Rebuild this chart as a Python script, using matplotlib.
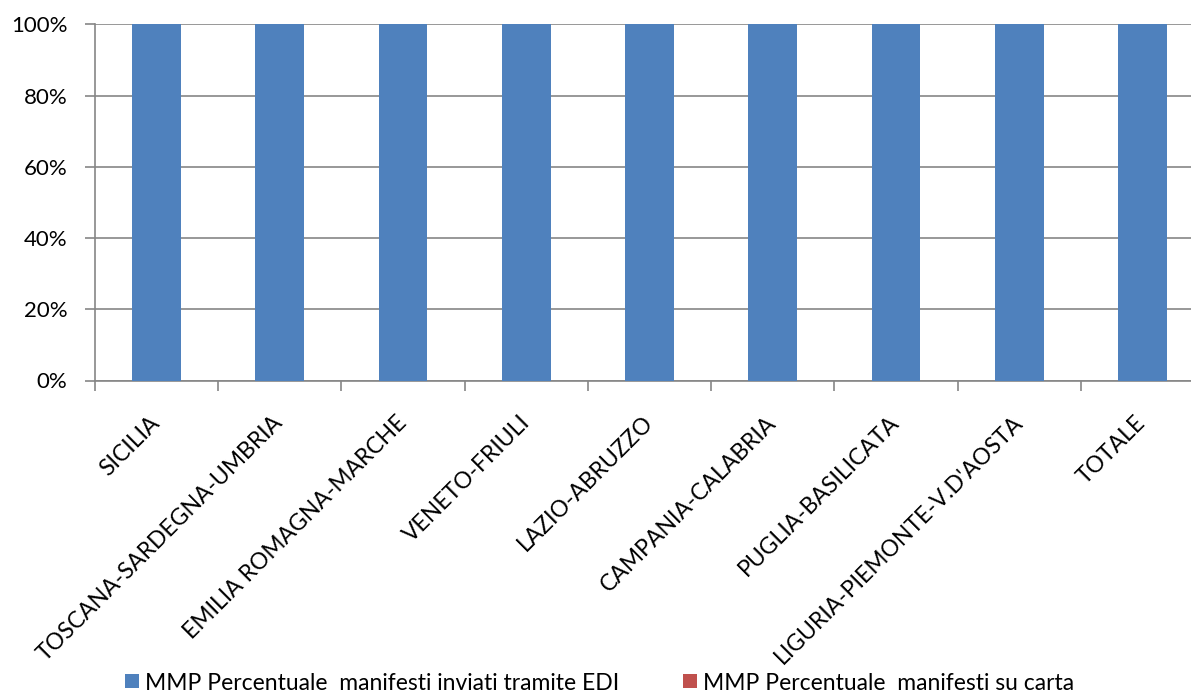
import matplotlib
matplotlib.use("Agg")
import matplotlib.pyplot as plt
import numpy as np
from matplotlib.ticker import FuncFormatter, FixedLocator

categories = ["SICILIA", "TOSCANA-SARDEGNA-UMBRIA", "EMILIA ROMAGNA-MARCHE",
              "VENETO-FRIULI", "LAZIO-ABRUZZO", "CAMPANIA-CALABRIA",
              "PUGLIA-BASILICATA", "LIGURIA-PIEMONTE-V.D'AOSTA", "TOTALE"]
edi_pct = [100, 100, 100, 100, 100, 100, 100, 100, 100]
carta_pct = [0, 0, 0, 0, 0, 0, 0, 0, 0]
series_names = ["MMP Percentuale  manifesti inviati tramite EDI",
                "MMP Percentuale  manifesti su carta"]
y_ticks = [0, 20, 40, 60, 80, 100]

plt.rcParams['font.family'] = ['Lato', 'DejaVu Sans']

W, H = 1191, 693
fig = plt.figure(figsize=(W / 100, H / 100), dpi=100)
left, right = 95 / W, 1204 / W
bottom, top = (H - 380.5) / H, (H - 24.3) / H
ax = fig.add_axes([left, bottom, right - left, top - bottom])

x = np.arange(len(categories))
blue = "#4F81BD"
red = "#C0504D"
b1 = ax.bar(x, edi_pct, width=0.395, color=blue, zorder=3, label=series_names[0])
b2 = ax.bar(x, carta_pct, width=0.395, bottom=edi_pct, color=red, zorder=3, label=series_names[1])

ax.set_xlim(-0.5, len(categories) - 0.5)
ax.set_ylim(0, 100)
ax.set_yticks(y_ticks)
ax.yaxis.set_major_formatter(FuncFormatter(lambda v, p: f"{int(v)}%"))
ax.yaxis.grid(True, color="#868686", linewidth=1.2, zorder=0)
ax.tick_params(axis='y', length=7, width=1.2, color="#868686", labelsize=16, pad=13)

ax.set_xticks(x)
ax.set_xticklabels(categories, rotation=45, ha='right', va='center',
                   rotation_mode='anchor', fontsize=16.5)
ax.tick_params(axis='x', which='major', length=0, pad=28)
ax.xaxis.set_minor_locator(FixedLocator(np.arange(-0.5, len(categories), 1.0)))
ax.tick_params(axis='x', which='minor', length=7, width=1.2, color="#868686")

for s in ['top', 'right']:
    ax.spines[s].set_visible(False)
for s in ['left', 'bottom']:
    ax.spines[s].set_color("#868686")
    ax.spines[s].set_linewidth(1.2)

fig.legend(handles=[b1, b2], labels=series_names, loc='center left',
           bbox_to_anchor=(125 / W, (H - 683) / H), ncol=2, frameon=False, fontsize=16.5,
           handlelength=0.61, handleheight=0.57, handletextpad=0.26,
           columnspacing=2.8, borderaxespad=0.0, borderpad=0.0)

fig.savefig("out.png", dpi=100, facecolor="white")
